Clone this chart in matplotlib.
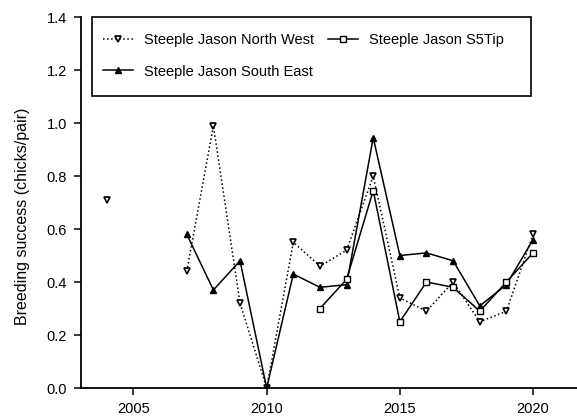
import matplotlib
matplotlib.use("Agg")
import matplotlib.pyplot as plt
from matplotlib.patches import Rectangle
import numpy as np

plt.rcParams['font.family'] = ['Liberation Sans', 'DejaVu Sans']

# breeding success (nan = no survey, breaks the line)
yrs_nw = [2004, 2005, 2007, 2008, 2009, 2010, 2011, 2012, 2013, 2014, 2015, 2016, 2017, 2018, 2019, 2020]
nw = [0.71, np.nan, 0.44, 0.99, 0.32, 0.0, 0.55, 0.46, 0.52, 0.80, 0.34, 0.29, 0.40, 0.25, 0.29, 0.58]

yrs_s5 = [2012, 2013, 2014, 2015, 2016, 2017, 2018, 2019, 2020]
s5 = [0.30, 0.41, 0.745, 0.25, 0.40, 0.38, 0.29, 0.40, 0.51]

yrs_se = [2007, 2008, 2009, 2010, 2011, 2012, 2013, 2014, 2015, 2016, 2017, 2018, 2019, 2020]
se = [0.58, 0.37, 0.48, 0.0, 0.43, 0.38, 0.39, 0.945, 0.50, 0.51, 0.48, 0.31, 0.39, 0.56]

xticks = [2005, 2010, 2015, 2020]
yticks = [0.0, 0.2, 0.4, 0.6, 0.8, 1.0, 1.2, 1.4]

fig = plt.figure(figsize=(5.77, 4.16), dpi=100)
ax = fig.add_axes([0.1404, 0.0673, 0.8596, 0.8917])

ax.plot(yrs_nw, nw, ls=':', color='black', lw=1.1, marker='v', ms=4.5,
        mfc='white', mec='black', mew=1.2, label='Steeple Jason North West')
ax.plot(yrs_se, se, ls='-', color='black', lw=1.1, marker='^', ms=4.5,
        mfc='black', mec='black', label='Steeple Jason South East')
ax.plot(yrs_s5, s5, ls='-', color='black', lw=1.1, marker='s', ms=4,
        mfc='white', mec='black', mew=1.0, label='Steeple Jason S5Tip')

ax.set_xlim(2003.03, 2021.65)
ax.set_ylim(0, 1.4)
ax.set_xticks(xticks)
ax.set_yticks(yticks)
ax.set_yticklabels(['%.1f' % v for v in yticks])
ax.spines['top'].set_visible(False)
ax.spines['right'].set_visible(False)
for s in ['left', 'bottom']:
    ax.spines[s].set_linewidth(1.3)
ax.tick_params(direction='out', length=5, width=1.1, labelsize=10.5, colors='black', pad=5)
ax.set_ylabel('Breeding success (chicks/pair)', fontsize=11.5)
ax.yaxis.set_label_coords(-0.103, 0.464)

# legend box drawn separately so it can be wider than the entries
ax.add_patch(Rectangle((0.022, 0.787), 0.885, 0.213, transform=ax.transAxes,
                       fill=False, lw=1.2, ec='black', clip_on=False, zorder=5))
ax.legend(ncol=2, loc='upper left', bbox_to_anchor=(0.044, 0.957),
          borderaxespad=0, borderpad=0, fontsize=10.5, frameon=False,
          handlelength=2.05, handletextpad=0.8, columnspacing=0.9,
          labelspacing=1.2)

fig.savefig('out.png', dpi=100)
